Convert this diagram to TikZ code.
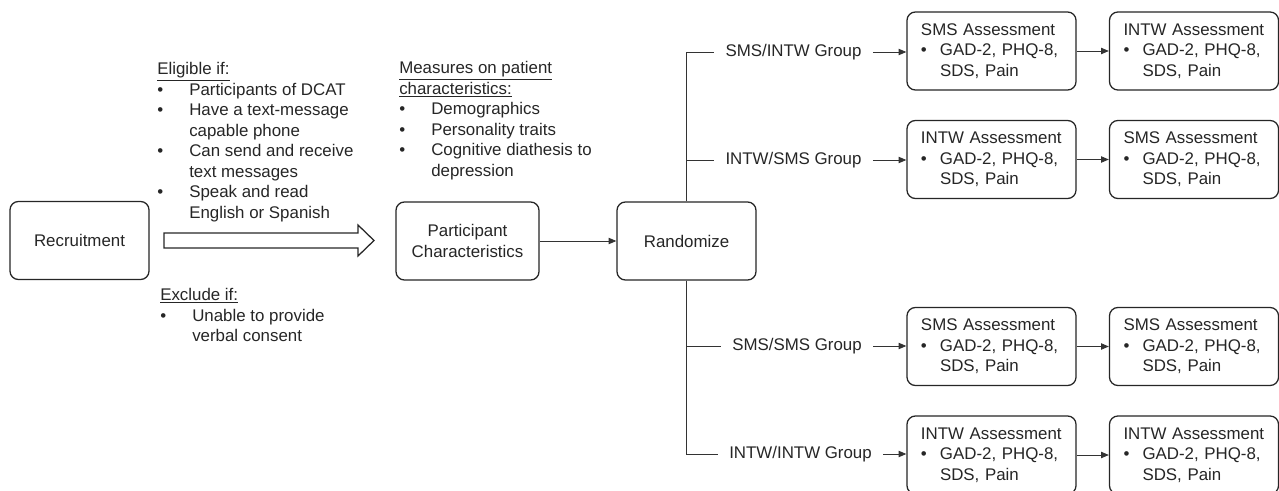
\documentclass[tikz,border=0pt]{standalone}
\usepackage{fontspec}
\setmainfont{Liberation Sans}
\usetikzlibrary{arrows.meta,positioning}
\newcommand{\bul}{\makebox[8mm][l]{\textbullet}}
\newcommand{\ind}{\hspace*{8mm}}
\newcommand{\abul}{\makebox[4.75mm][l]{\textbullet}}
\newcommand{\aind}{\hspace*{4.75mm}}

\begin{document}
\begin{tikzpicture}[x=0.025cm, y=-0.025cm,
  every node/.style={font=\fontsize{12pt}{14.6pt}\selectfont, text=black!85},
  box/.style={draw=black!85, line width=0.9pt, rounded corners=6pt, fill=white, align=center, minimum width=34.75mm, minimum height=19.5mm, inner sep=0pt},
  abox/.style={draw=black!85, line width=0.9pt, rounded corners=6pt, fill=white, align=left, text width=35.25mm, inner xsep=3.5mm, minimum height=19.5mm},
  grp/.style={inner xsep=2.75mm},
  lst/.style={align=left, anchor=north west, inner sep=0pt},
  ln/.style={draw=black!80, line width=0.6pt},
  arr/.style={ln, -{Triangle[length=5.5pt,width=4.5pt]}}]
\useasboundingbox (0,0) rectangle (1279,491);

% left part
\node[box] (recruit) at (79.5,240.5) {Recruitment};
\node[box, minimum width=35.75mm] (partchar) at (467.5,241) {Participant\\Characteristics};
\node[box] (rand) at (686.5,241) {Randomize};

\node[lst] (elig) at (157,62) {\underline{Eligible if:}\\
\bul Participants of DCAT\\
\bul Have a text-message\\
\ind capable phone\\
\bul Can send and receive\\
\ind text messages\\
\bul Speak and read\\
\ind English or Spanish};
\node[lst] (excl) at (160,288) {\underline{Exclude if:}\\
\bul Unable to provide\\
\ind verbal consent};
\node[lst] (meas) at (399,61) {\underline{Measures on patient}\\
\underline{characteristics:}\\
\bul Demographics\\
\bul Personality traits\\
\bul Cognitive diathesis to\\
\ind depression};

\draw[line width=0.9pt, draw=black!85] (164,233) -- (358,233) -- (358,225) -- (374,240.5) -- (358,256) -- (358,248) -- (164,248) -- cycle;
\draw[arr] (partchar) -- (rand);

% groups
\node[grp] (g1) at (793.5,52) {SMS/INTW Group};
\node[grp] (g2) at (793.5,160) {INTW/SMS Group};
\node[grp] (g3) at (797,346) {SMS/SMS Group};
\node[grp] (g4) at (800.5,454) {INTW/INTW Group};
\draw[ln] (rand.north) |- (g1.west);
\draw[ln] (rand.north) |- (g2.west);
\draw[ln] (rand.south) |- (g3.west);
\draw[ln] (rand.south) |- (g4.west);

% assessments
\node[abox] (a11) at (991.5,51) {SMS Assessment\\\abul GAD-2, PHQ-8,\\\aind SDS, Pain};
\node[abox] (a12) at (1194,51) {INTW Assessment\\\abul GAD-2, PHQ-8,\\\aind SDS, Pain};
\node[abox] (a21) at (991.5,159.5) {INTW Assessment\\\abul GAD-2, PHQ-8,\\\aind SDS, Pain};
\node[abox] (a22) at (1194,159.5) {SMS Assessment\\\abul GAD-2, PHQ-8,\\\aind SDS, Pain};
\node[abox] (a31) at (991.5,346.5) {SMS Assessment\\\abul GAD-2, PHQ-8,\\\aind SDS, Pain};
\node[abox] (a32) at (1194,346.5) {SMS Assessment\\\abul GAD-2, PHQ-8,\\\aind SDS, Pain};
\node[abox] (a41) at (991.5,455) {INTW Assessment\\\abul GAD-2, PHQ-8,\\\aind SDS, Pain};
\node[abox] (a42) at (1194,455) {INTW Assessment\\\abul GAD-2, PHQ-8,\\\aind SDS, Pain};

\draw[arr] (g1.east) -- (g1.east -| a11.west);
\draw[arr] (g2.east) -- (g2.east -| a21.west);
\draw[arr] (g3.east) -- (g3.east -| a31.west);
\draw[arr] (g4.east) -- (g4.east -| a41.west);
\draw[arr] (a11) -- (a12);
\draw[arr] (a21) -- (a22);
\draw[arr] (a31) -- (a32);
\draw[arr] (a41) -- (a42);
\end{tikzpicture}
\end{document}
